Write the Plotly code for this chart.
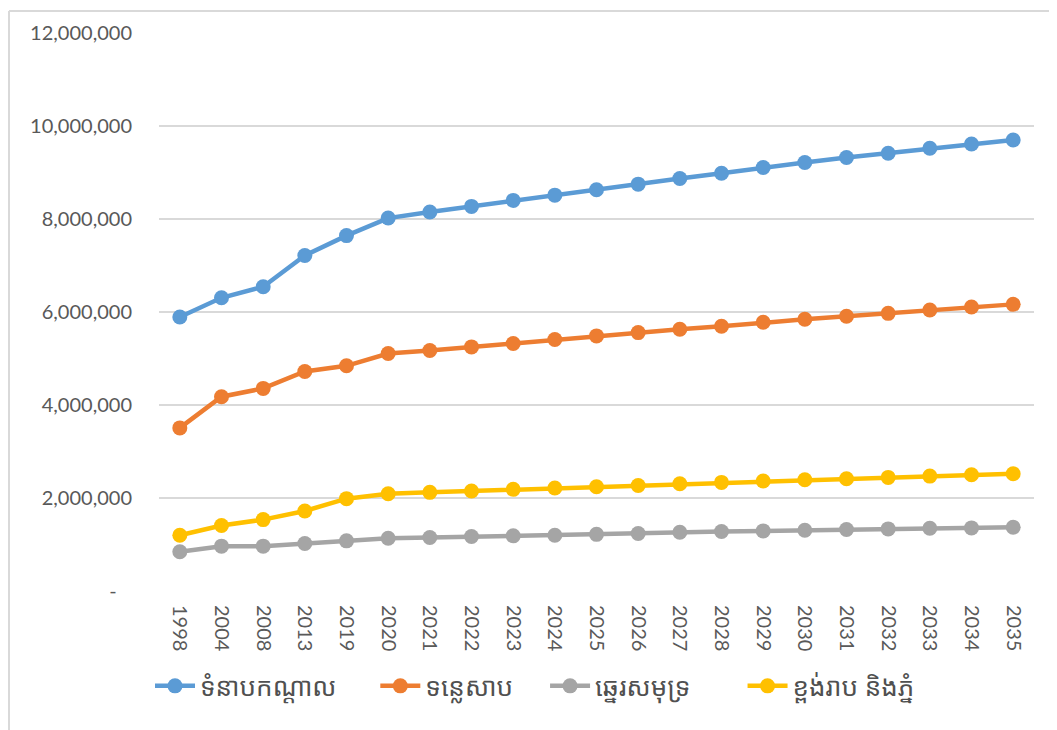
import plotly.graph_objects as go

years = ["1998", "2004", "2008", "2013", "2019", "2020", "2021", "2022", "2023", "2024", "2025",
         "2026", "2027", "2028", "2029", "2030", "2031", "2032", "2033", "2034", "2035"]

plain = [5893000, 6306000, 6542000, 7215000, 7643000, 8020000, 8149000, 8271000, 8400000, 8513000, 8629000,
         8749000, 8871000, 8985000, 9107000, 9214000, 9321000, 9413000, 9520000, 9614000, 9700000]
tonle_sap = [3508000, 4178000, 4357000, 4721000, 4843000, 5107000, 5171000, 5250000, 5321000, 5407000, 5486000,
             5557000, 5628000, 5693000, 5778000, 5843000, 5907000, 5971000, 6043000, 6107000, 6164000]
coastal = [843000, 964000, 964000, 1021000, 1078000, 1136000, 1150000, 1171000, 1186000, 1200000, 1218000,
           1236000, 1264000, 1279000, 1293000, 1307000, 1321000, 1336000, 1350000, 1357000, 1371000]
plateau = [1200000, 1407000, 1536000, 1721000, 1986000, 2093000, 2121000, 2150000, 2186000, 2214000, 2243000,
           2270000, 2307000, 2336000, 2364000, 2393000, 2414000, 2443000, 2471000, 2500000, 2521000]

series_names = ["ទំនាបកណ្ដាល", "ទន្លេសាប", "ឆ្នេរសមុទ្រ", "ខ្ពង់រាប និងភ្នំ"]
series_values = [plain, tonle_sap, coastal, plateau]
colors = ["#5B9BD5", "#ED7D31", "#A5A5A5", "#FFC000"]
name_pad = [5, 4, 7, 0]

y_tickvals = [0, 2000000, 4000000, 6000000, 8000000, 10000000, 12000000]
y_ticktext = ["-\u00a0\u00a0\u00a0", "2,000,000", "4,000,000", "6,000,000", "8,000,000", "10,000,000", "12,000,000"]

fig = go.Figure()
for name, vals, col, pad in zip(series_names, series_values, colors, name_pad):
    fig.add_trace(go.Scatter(
        x=years, y=vals, name=name + "\u00a0" * pad, mode="lines+markers",
        line=dict(color=col, width=4.5),
        marker=dict(color=col, size=15),
    ))

tick_font = dict(family="Lato, Roboto, sans-serif", size=20, color="#595959")

L, R, T, B = 151, 23, 23, 139
W, H = 1049, 722
pw, ph = W - L - R, H - T - B

fig.update_layout(
    width=W, height=H,
    margin=dict(l=L, r=R, t=T, b=B),
    paper_bgcolor="white", plot_bgcolor="white",
    showlegend=True,
    legend=dict(orientation="h", x=(142 - L) / pw, xanchor="left", y=-0.128, yanchor="top",
                font=dict(family="Noto Sans Khmer, Khmer OS, Lato, sans-serif", size=26, color="#505050"),
                itemwidth=40, tracegroupgap=0),
    xaxis=dict(type="category", showgrid=False, showline=False, zeroline=False,
               tickangle=90, tickfont=tick_font, ticks="", ticklabelstandoff=13,
               range=[-0.5, len(years) - 0.5]),
    yaxis=dict(range=[0, 12000000], tickvals=y_tickvals, ticktext=y_ticktext,
               showgrid=True, gridcolor="#D9D9D9", gridwidth=1.5, zeroline=False, showline=False,
               tickfont=tick_font, ticks="", ticklabelstandoff=26),
    shapes=[
        dict(type="line", xref="paper", yref="paper", x0=(1 - L) / pw, x1=1.1, y0=1 + (T - 1) / ph, y1=1 + (T - 1) / ph,
             line=dict(color="#D9D9D9", width=2)),
        dict(type="line", xref="paper", yref="paper", x0=(1 - L) / pw, x1=(1 - L) / pw, y0=-0.3, y1=1 + (T - 1) / ph,
             line=dict(color="#D9D9D9", width=2)),
    ],
)

fig.write_html("out.html")
